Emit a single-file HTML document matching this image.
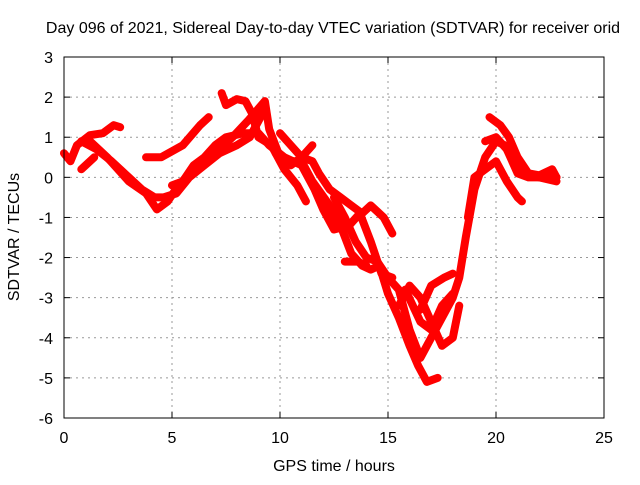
<!DOCTYPE html>
<html><head><meta charset="utf-8"><style>
body{margin:0;background:#fff}
svg{font-family:"Liberation Sans",sans-serif;font-size:16px}
</style></head><body>
<svg width="640" height="480">
<text x="333" y="33" text-anchor="middle">Day 096 of 2021, Sidereal Day-to-day VTEC variation (SDTVAR) for receiver orid</text>
<g id="grid"></g>
<g id="series"></g>
<rect x="64" y="57" width="540" height="361" fill="none" stroke="#000" stroke-width="1"/>
<g id="ticks"></g>
<text x="334" y="471" text-anchor="middle">GPS time / hours</text>
<text transform="translate(19,237) rotate(-90)" text-anchor="middle">SDTVAR / TECUs</text>
</svg>
<script>
const xTicks=[0,5,10,15,20,25];
const yTicks=[3,2,1,0,-1,-2,-3,-4,-5,-6];
const tracks=[
[[0,0.6],[0.3,0.4],[0.6,0.8],[1.2,1.05],[1.8,1.1],[2.3,1.3],[2.6,1.25]],
[[0.8,0.9],[1.5,0.7],[2.2,0.4],[3,0],[3.6,-0.3],[4.2,-0.5],[4.6,-0.5],[5.2,-0.4],[5.8,0],[6.5,0.3],[7.2,0.6],[8,0.8],[8.6,1.0],[9.2,1.6]],
[[0.8,0.2],[1.4,0.5]],
[[1.2,0.9],[2,0.5],[3,-0.1],[3.8,-0.4],[4.3,-0.8],[4.8,-0.6],[5.3,-0.2],[6,0.2],[7,0.6],[7.8,1.0],[8.5,1.4],[9.3,1.9],[9.5,1.2],[10,0.5],[10.5,0.3],[11,0.5],[11.5,0.8]],
[[3.8,0.5],[4.5,0.5],[5.5,0.8],[6.3,1.3],[6.7,1.5]],
[[7.3,2.1],[7.5,1.8],[8,1.95],[8.4,1.9],[8.7,1.6],[9,1.0],[9.6,0.8],[10.2,0.2],[10.8,-0.2],[11.2,-0.6]],
[[5,-0.2],[5.5,-0.1],[6,0.3],[6.5,0.5],[7,0.8],[7.5,1.0],[8.3,1.1],[9,1.1],[9.5,0.8],[10.2,0.5],[11,0.3],[11.6,-0.3],[12,-0.8],[12.5,-1.3],[13.2,-1.2],[13.7,-0.9],[14.2,-1.6],[14.7,-2.4],[15.2,-2.5]],
[[10,1.1],[10.5,0.8],[11,0.5],[11.5,0.4],[11.8,0.1],[12.3,-0.3],[12.8,-0.5],[13.3,-0.7],[13.8,-0.9],[14.2,-0.7],[14.8,-1.0],[15.2,-1.4]],
[[9.8,0.6],[10.5,0.4],[11,0.4],[11.5,-0.1],[12.3,-0.7],[12.8,-1.2],[13.3,-1.9],[13.8,-2.2],[14.2,-2.3],[14.6,-2.2],[15,-2.9],[15.5,-3.5],[16,-4.2],[16.4,-4.7],[16.8,-5.1],[17.3,-5.0]],
[[12.5,-0.5],[13,-1.0],[13.5,-1.6],[14,-2.0],[14.5,-2.1],[15,-2.5],[15.5,-2.8],[16,-3.8],[16.5,-4.5],[17,-4.0],[17.6,-3.4],[18,-3.0],[18.3,-2.5],[18.6,-1.5],[19,-0.3],[19.5,0.5],[20,0.9],[20.4,0.8],[20.8,0.4],[21.3,0.1],[22,0],[22.8,0]],
[[13,-2.1],[13.6,-2.1],[14,-2.2]],
[[15.5,-3.2],[16,-2.7],[16.5,-3.0],[17,-3.6],[17.5,-4.2],[18,-4.0],[18.3,-3.2]],
[[15.8,-2.8],[16.5,-3.6],[17,-3.8],[17.5,-3.2],[18,-2.9]],
[[16.5,-3.3],[17,-2.7],[17.6,-2.5],[18,-2.4]],
[[18.7,-1.0],[19,0],[19.5,0.2],[20,0.4],[20.5,-0.1],[21,-0.5],[21.2,-0.6]],
[[19.7,1.5],[20.2,1.3],[20.6,1.0],[21,0.5],[21.5,0.1],[22,0.05],[22.6,0.2],[22.8,0]],
[[19.5,0.9],[20,1.0],[20.5,0.7],[21,0.1],[21.5,0],[22,0],[22.8,-0.1]]
];
const NS="http://www.w3.org/2000/svg";
const X=h=>64+h*540/25, Y=v=>57+(3-v)*361/9;
const grid=document.getElementById('grid'),tk=document.getElementById('ticks'),ser=document.getElementById('series');
function mk(tag,at,par){const e=document.createElementNS(NS,tag);for(const k in at)e.setAttribute(k,at[k]);par.appendChild(e);return e;}
xTicks.forEach(t=>{
 if(t>0&&t<25){const l=mk('line',{x1:X(t),x2:X(t),y1:57,y2:418,stroke:'#999','stroke-dasharray':'2,4'},grid);
 
 }
 mk('line',{x1:X(t),x2:X(t),y1:418,y2:412,stroke:'#000'},tk);
 mk('line',{x1:X(t),x2:X(t),y1:57,y2:63,stroke:'#000'},tk);
 const s=mk('text',{x:X(t),y:443,'text-anchor':'middle'},tk);s.textContent=t;
 
 
});
yTicks.forEach(t=>{
 if(t<3&&t>-6){const l=mk('line',{x1:64,x2:604,y1:Y(t),y2:Y(t),stroke:'#999','stroke-dasharray':'2,4'},grid);
 
 }
 mk('line',{x1:64,x2:70,y1:Y(t),y2:Y(t),stroke:'#000'},tk);
 mk('line',{x1:598,x2:604,y1:Y(t),y2:Y(t),stroke:'#000'},tk);
 const s=mk('text',{x:53,y:Y(t)+6,'text-anchor':'end'},tk);s.textContent=t;
 
 
});
tracks.forEach((tr,i)=>{
 const p=mk('polyline',{points:tr.map(d=>X(d[0])+','+Y(d[1])).join(' '),fill:'none',stroke:'#f00','stroke-width':8,'stroke-linejoin':'round','stroke-linecap':'round'},ser);
 
 
});
</script>
</body></html>
